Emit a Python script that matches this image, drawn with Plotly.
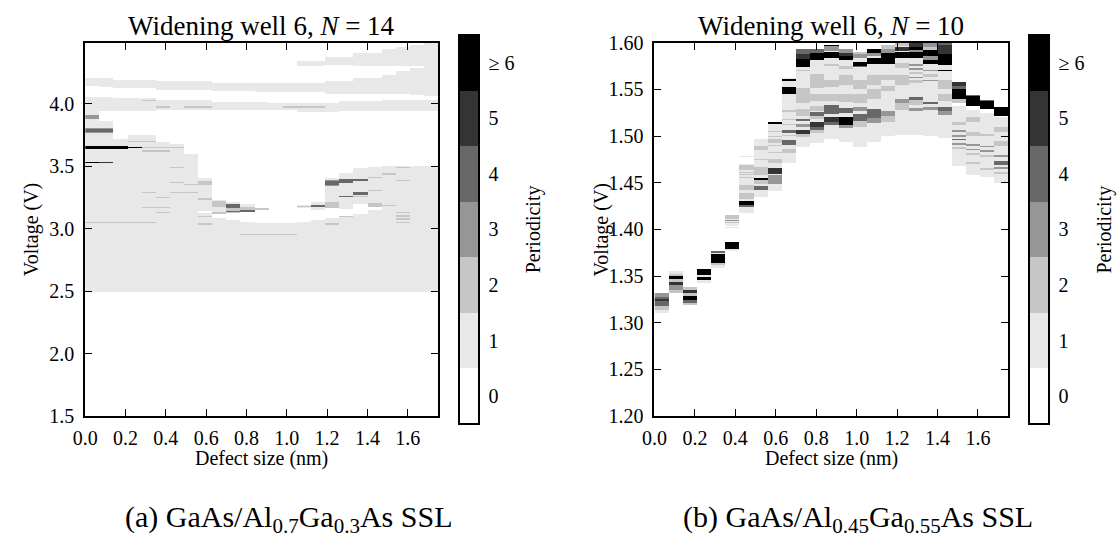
import numpy as np
import plotly.graph_objects as go

# ---------------- data ----------------
LEVEL_COLORS = ['#ffffff', '#e8e8e8', '#c6c6c6', '#969696', '#686868', '#343434', '#000000']
CBAR_TICKVALS = [0, 1, 2, 3, 4, 5, 6]
CBAR_TICKTEXT = ['0', '1', '2', '3', '4', '5', '≥ 6']

N_COLS = 25          # defect-size columns
COL_WIDTH = 0.07     # nm per column
X_TICKS = [0.0, 0.2, 0.4, 0.6, 0.8, 1.0, 1.2, 1.4, 1.6]

LEFT_V_RANGE = [1.5, 4.49]
LEFT_V_STEP = 0.0025
LEFT_Y_TICKS = [1.5, 2.0, 2.5, 3.0, 3.5, 4.0]

RIGHT_V_RANGE = [1.2, 1.6]
RIGHT_V_STEP = 0.0005
RIGHT_Y_TICKS = [1.20, 1.25, 1.30, 1.35, 1.40, 1.45, 1.50, 1.55, 1.60]

# (first column, last column, V low, V high, periodicity)
LEFT_REGIONS = [
    (0, 1, 2.50, 3.86, 1), (2, 2, 2.50, 3.72, 1), (3, 4, 2.50, 3.75, 1),
    (5, 5, 2.50, 3.70, 1), (6, 6, 2.50, 3.68, 1), (7, 7, 2.50, 3.60, 1),
    (8, 8, 2.50, 3.125, 1), (8, 8, 3.145, 3.41, 1),
    (9, 9, 2.50, 3.09, 1), (9, 9, 3.12, 3.235, 1),
    (10, 10, 2.50, 3.075, 1), (10, 10, 3.13, 3.215, 1),
    (11, 11, 2.50, 3.06, 1), (11, 11, 3.14, 3.20, 1),
    (12, 12, 2.50, 3.05, 1), (12, 12, 3.15, 3.165, 1),
    (13, 13, 2.50, 3.045, 1), (14, 14, 2.50, 3.05, 1),
    (15, 15, 2.50, 3.06, 1), (15, 15, 3.17, 3.19, 1),
    (16, 16, 2.50, 3.075, 1), (16, 16, 3.15, 3.22, 1),
    (17, 17, 2.50, 3.09, 1), (17, 17, 3.17, 3.41, 1),
    (18, 18, 2.50, 3.10, 1), (18, 18, 3.16, 3.45, 1),
    (19, 19, 2.50, 3.12, 1), (19, 19, 3.20, 3.49, 1),
    (20, 20, 2.50, 3.15, 1), (20, 20, 3.18, 3.50, 1),
    (21, 24, 2.50, 3.505, 1),
    (0, 0, 3.86, 3.94, 1),
]
LEFT_BAND_4V = [
    (0, 1, 3.940, 4.055, 1), (2, 4, 3.945, 4.045, 1), (5, 8, 3.953, 4.030, 1),
    (9, 12, 3.955, 4.015, 1), (13, 14, 3.955, 4.005, 1), (15, 17, 3.937, 4.010, 1),
    (18, 20, 3.940, 4.020, 1), (21, 24, 3.940, 4.030, 1),
]
LEFT_BAND_MID = [
    (0, 0, 4.140, 4.210, 1), (1, 1, 4.135, 4.205, 1), (2, 4, 4.128, 4.190, 1),
    (5, 8, 4.115, 4.180, 1), (9, 11, 4.100, 4.170, 1), (12, 16, 4.095, 4.170, 1),
    (17, 18, 4.080, 4.185, 1), (19, 20, 4.080, 4.210, 1), (21, 21, 4.080, 4.235, 1),
    (22, 22, 4.078, 4.260, 1), (23, 23, 4.075, 4.290, 1), (24, 24, 4.067, 4.490, 1),
]
LEFT_BAND_TOP = [
    (15, 16, 4.303, 4.339, 1), (17, 18, 4.313, 4.372, 1), (19, 20, 4.308, 4.410, 1),
    (21, 21, 4.308, 4.440, 1), (22, 22, 4.308, 4.457, 1), (23, 23, 4.300, 4.476, 1),
]
LEFT_MARKS = [
    (4, 4, 4.025, 4.035, 2), (5, 5, 3.970, 3.980, 2), (7, 8, 3.970, 3.980, 2),
    (14, 16, 3.970, 3.980, 2),
    (0, 0, 3.880, 3.910, 3), (0, 1, 3.765, 3.807, 3), (0, 1, 3.772, 3.800, 4),
    (3, 4, 3.695, 3.705, 2), (4, 6, 3.647, 3.657, 2), (4, 5, 3.620, 3.630, 2),
    (0, 2, 3.642, 3.667, 6), (3, 3, 3.644, 3.656, 6),
    (0, 1, 3.524, 3.536, 5), (0, 0, 3.526, 3.534, 6),
    (6, 6, 3.490, 3.500, 2), (6, 6, 3.365, 3.375, 2), (7, 7, 3.350, 3.360, 2),
    (4, 4, 3.290, 3.300, 2), (6, 7, 3.290, 3.300, 2), (5, 5, 3.245, 3.255, 2),
    (4, 5, 3.170, 3.180, 2), (5, 5, 3.125, 3.135, 2), (0, 4, 3.045, 3.055, 2),
    (8, 8, 3.350, 3.385, 2), (8, 8, 3.235, 3.245, 2), (8, 8, 3.095, 3.105, 2),
    (8, 8, 3.035, 3.045, 2),
    (9, 9, 3.175, 3.225, 2), (9, 9, 3.120, 3.140, 2),
    (10, 10, 3.130, 3.165, 2), (10, 10, 3.170, 3.200, 4), (10, 10, 3.137, 3.147, 4),
    (11, 11, 3.150, 3.180, 2), (11, 11, 3.140, 3.150, 4),
    (12, 12, 3.155, 3.165, 2), (11, 14, 2.952, 2.962, 2),
    (15, 15, 3.175, 3.185, 2), (16, 16, 3.180, 3.190, 4),
    (17, 17, 3.170, 3.220, 2), (17, 17, 3.345, 3.390, 3), (17, 17, 3.352, 3.382, 4),
    (17, 17, 3.035, 3.045, 2),
    (18, 18, 3.370, 3.400, 4), (18, 18, 3.255, 3.265, 4), (18, 18, 3.095, 3.105, 2),
    (19, 19, 3.385, 3.400, 4), (19, 19, 3.270, 3.295, 4), (19, 19, 3.255, 3.262, 2),
    (20, 20, 3.410, 3.420, 2), (20, 20, 3.305, 3.315, 2), (20, 20, 3.180, 3.205, 2),
    (21, 21, 3.435, 3.445, 2), (21, 21, 3.185, 3.195, 2),
    (22, 22, 3.490, 3.500, 2), (22, 22, 3.385, 3.395, 2), (22, 22, 3.125, 3.135, 2),
    (22, 22, 3.100, 3.110, 2), (22, 22, 3.075, 3.085, 2), (22, 22, 3.050, 3.060, 2),
]

RIGHT_BASE = [
    (6, 6, 1.4175, 1.4700, 1), (6, 6, 1.4775, 1.4785, 1), (7, 7, 1.4350, 1.4970, 1),
    (8, 8, 1.4415, 1.5135, 1), (9, 9, 1.4710, 1.5620, 1), (10, 10, 1.4880, 1.5930, 1),
    (11, 11, 1.4930, 1.5930, 1), (12, 12, 1.4970, 1.5980, 1), (13, 13, 1.4940, 1.5930, 1),
    (14, 14, 1.4880, 1.5905, 1), (15, 15, 1.4940, 1.5930, 1), (16, 16, 1.5000, 1.5970, 1),
    (17, 18, 1.5010, 1.6000, 1), (19, 19, 1.5000, 1.6000, 1), (20, 20, 1.4980, 1.6000, 1),
    (21, 21, 1.4680, 1.5320, 1), (22, 22, 1.4580, 1.5280, 1), (23, 23, 1.4560, 1.5250, 1),
    (24, 24, 1.4500, 1.5200, 1),
]
RIGHT_LOW_COLS = [
    (0, 0, 1.3110, 1.3140, 1), (0, 0, 1.3140, 1.3180, 2), (0, 0, 1.3180, 1.3280, 4),
    (0, 0, 1.3280, 1.3320, 3), (0, 0, 1.3235, 1.3260, 5),
    (1, 1, 1.3530, 1.3560, 1), (1, 1, 1.3500, 1.3530, 2), (1, 1, 1.3470, 1.3500, 6),
    (1, 1, 1.3440, 1.3470, 2), (1, 1, 1.3405, 1.3440, 5), (1, 1, 1.3360, 1.3405, 3),
    (1, 1, 1.3320, 1.3360, 2),
    (2, 2, 1.3360, 1.3385, 2), (2, 2, 1.3320, 1.3360, 5), (2, 2, 1.3295, 1.3320, 2),
    (2, 2, 1.3250, 1.3295, 6), (2, 2, 1.3220, 1.3250, 4), (2, 2, 1.3195, 1.3220, 2),
    (3, 3, 1.3520, 1.3580, 6), (3, 3, 1.3495, 1.3520, 1), (3, 3, 1.3460, 1.3495, 6),
    (3, 3, 1.3430, 1.3460, 1),
    (4, 4, 1.3755, 1.3775, 4), (4, 4, 1.3735, 1.3755, 1), (4, 4, 1.3640, 1.3735, 6),
    (4, 4, 1.3620, 1.3640, 2), (4, 4, 1.3585, 1.3620, 1),
    (5, 5, 1.3790, 1.3870, 6), (5, 5, 1.3770, 1.3790, 1), (5, 5, 1.4110, 1.4160, 2),
    (5, 5, 1.4085, 1.4110, 1), (5, 5, 1.4095, 1.4105, 3), (5, 5, 1.4070, 1.4085, 2),
    (5, 5, 1.4040, 1.4070, 1), (5, 5, 1.4020, 1.4030, 1),
]
RIGHT_MARKS = [
    (6, 6, 1.4640, 1.4690, 2), (6, 6, 1.4612, 1.4622, 2), (6, 6, 1.4585, 1.4595, 2),
    (6, 6, 1.4550, 1.4560, 2), (6, 6, 1.4420, 1.4480, 2), (6, 6, 1.4330, 1.4390, 2),
    (6, 6, 1.4260, 1.4310, 6), (6, 6, 1.4240, 1.4260, 4),
    (7, 7, 1.4850, 1.4900, 2), (7, 7, 1.4740, 1.4760, 2), (7, 7, 1.4590, 1.4670, 2),
    (7, 7, 1.4535, 1.4555, 6), (7, 7, 1.4490, 1.4535, 2), (7, 7, 1.4420, 1.4470, 4),
    (8, 8, 1.5135, 1.5155, 6), (8, 8, 1.5045, 1.5060, 2), (8, 8, 1.4995, 1.5005, 2),
    (8, 8, 1.4930, 1.4970, 2), (8, 8, 1.4895, 1.4905, 2), (8, 8, 1.4825, 1.4835, 2),
    (8, 8, 1.4710, 1.4760, 2), (8, 8, 1.4595, 1.4655, 5), (8, 8, 1.4485, 1.4580, 3),
    (9, 9, 1.5585, 1.5615, 6), (9, 9, 1.5450, 1.5530, 6), (9, 9, 1.5255, 1.5285, 2),
    (9, 9, 1.5175, 1.5185, 2), (9, 9, 1.5115, 1.5125, 2), (9, 9, 1.5030, 1.5065, 4),
    (9, 9, 1.5005, 1.5015, 2), (9, 9, 1.4905, 1.4955, 4), (9, 9, 1.4815, 1.4865, 2),
    (10, 10, 1.5880, 1.5930, 4), (10, 10, 1.5825, 1.5880, 5), (10, 10, 1.5740, 1.5825, 6),
    (10, 10, 1.5695, 1.5705, 2), (10, 10, 1.5350, 1.5520, 2), (10, 10, 1.5220, 1.5290, 2),
    (10, 10, 1.5160, 1.5180, 4), (10, 10, 1.5100, 1.5130, 3), (10, 10, 1.5025, 1.5070, 5),
    (10, 10, 1.4995, 1.5025, 2),
    (11, 11, 1.5895, 1.5930, 4), (11, 11, 1.5810, 1.5895, 6), (11, 11, 1.5520, 1.5660, 2),
    (11, 11, 1.5380, 1.5450, 2), (11, 11, 1.5270, 1.5320, 2), (11, 11, 1.5220, 1.5260, 4),
    (11, 11, 1.5180, 1.5220, 2), (11, 11, 1.5100, 1.5150, 5), (11, 11, 1.5070, 1.5100, 4),
    (11, 11, 1.5030, 1.5070, 2),
    (12, 12, 1.5965, 1.5980, 6), (12, 12, 1.5910, 1.5965, 3), (12, 12, 1.5840, 1.5900, 6),
    (12, 12, 1.5750, 1.5770, 2), (12, 12, 1.5530, 1.5600, 2), (12, 12, 1.5380, 1.5450, 2),
    (12, 12, 1.5240, 1.5330, 4), (12, 12, 1.5150, 1.5210, 5), (12, 12, 1.5120, 1.5150, 4),
    (13, 13, 1.5890, 1.5930, 3), (13, 13, 1.5860, 1.5890, 5), (13, 13, 1.5820, 1.5860, 6),
    (13, 13, 1.5720, 1.5750, 2), (13, 13, 1.5550, 1.5650, 2), (13, 13, 1.5370, 1.5450, 2),
    (13, 13, 1.5250, 1.5300, 4), (13, 13, 1.5120, 1.5210, 6), (13, 13, 1.5090, 1.5120, 3),
    (14, 14, 1.5880, 1.5905, 2), (14, 14, 1.5840, 1.5880, 3), (14, 14, 1.5755, 1.5790, 6),
    (14, 14, 1.5740, 1.5755, 4), (14, 14, 1.5500, 1.5600, 2), (14, 14, 1.5350, 1.5450, 2),
    (14, 14, 1.5270, 1.5310, 3), (14, 14, 1.5160, 1.5240, 4), (14, 14, 1.5100, 1.5160, 2),
    (15, 15, 1.5890, 1.5930, 6), (15, 15, 1.5860, 1.5890, 3), (15, 15, 1.5770, 1.5840, 6),
    (15, 15, 1.5550, 1.5650, 2), (15, 15, 1.5400, 1.5500, 2), (15, 15, 1.5190, 1.5290, 4),
    (15, 15, 1.5140, 1.5190, 3),
    (16, 16, 1.5930, 1.5970, 2), (16, 16, 1.5890, 1.5930, 3), (16, 16, 1.5770, 1.5890, 6),
    (16, 16, 1.5600, 1.5650, 2), (16, 16, 1.5480, 1.5540, 2), (16, 16, 1.5220, 1.5270, 3),
    (16, 16, 1.5150, 1.5220, 2),
    (17, 17, 1.5960, 1.6000, 2), (17, 17, 1.5910, 1.5950, 5), (17, 17, 1.5840, 1.5900, 6),
    (17, 17, 1.5730, 1.5780, 2), (17, 17, 1.5550, 1.5650, 2), (17, 17, 1.5360, 1.5400, 3),
    (17, 17, 1.5280, 1.5360, 2),
    (18, 18, 1.5950, 1.6000, 5), (18, 18, 1.5920, 1.5950, 6), (18, 18, 1.5900, 1.5920, 3),
    (18, 18, 1.5840, 1.5900, 6), (18, 18, 1.5755, 1.5770, 3), (18, 18, 1.5710, 1.5725, 3),
    (18, 18, 1.5660, 1.5690, 2), (18, 18, 1.5620, 1.5635, 3), (18, 18, 1.5570, 1.5600, 2),
    (18, 18, 1.5385, 1.5415, 4), (18, 18, 1.5330, 1.5385, 2), (18, 18, 1.5270, 1.5300, 3),
    (19, 19, 1.5950, 1.6000, 3), (19, 19, 1.5920, 1.5950, 2), (19, 19, 1.5860, 1.5920, 6),
    (19, 19, 1.5820, 1.5860, 3), (19, 19, 1.5770, 1.5820, 6), (19, 19, 1.5695, 1.5710, 3),
    (19, 19, 1.5630, 1.5670, 2), (19, 19, 1.5590, 1.5605, 3), (19, 19, 1.5340, 1.5370, 4),
    (19, 19, 1.5280, 1.5310, 3),
    (20, 20, 1.5970, 1.6000, 4), (20, 20, 1.5880, 1.5970, 5), (20, 20, 1.5760, 1.5880, 6),
    (20, 20, 1.5695, 1.5710, 6), (20, 20, 1.5500, 1.5600, 2), (20, 20, 1.5380, 1.5450, 2),
    (20, 20, 1.5270, 1.5310, 4), (20, 20, 1.5230, 1.5270, 3),
    (21, 21, 1.5360, 1.5395, 2), (21, 21, 1.5395, 1.5500, 6), (21, 21, 1.5500, 1.5540, 4),
    (21, 21, 1.5540, 1.5580, 5), (21, 21, 1.5120, 1.5150, 2), (21, 21, 1.5045, 1.5065, 3),
    (21, 21, 1.4995, 1.5015, 3), (21, 21, 1.4955, 1.4975, 4), (21, 21, 1.4910, 1.4930, 3),
    (21, 21, 1.4860, 1.4880, 2),
    (22, 22, 1.5326, 1.5429, 6), (22, 22, 1.5429, 1.5445, 4), (22, 22, 1.5150, 1.5200, 2),
    (22, 22, 1.5000, 1.5050, 2), (22, 22, 1.4900, 1.4920, 3), (22, 22, 1.4850, 1.4865, 3),
    (22, 22, 1.4800, 1.4820, 2), (22, 22, 1.4700, 1.4720, 2),
    (23, 23, 1.5290, 1.5375, 6), (23, 23, 1.5375, 1.5390, 4), (23, 23, 1.5000, 1.5020, 2),
    (23, 23, 1.4880, 1.4900, 3), (23, 23, 1.4830, 1.4850, 3), (23, 23, 1.4780, 1.4800, 2),
    (23, 23, 1.4640, 1.4660, 2),
    (24, 24, 1.5220, 1.5316, 6), (24, 24, 1.5050, 1.5100, 2), (24, 24, 1.4900, 1.4950, 2),
    (24, 24, 1.4780, 1.4800, 3), (24, 24, 1.4690, 1.4730, 4), (24, 24, 1.4650, 1.4670, 3),
    (24, 24, 1.4600, 1.4620, 2),
]

TITLES = ['Widening well 6, <i>N</i> = 14', 'Widening well 6, <i>N</i> = 10']
CAPTIONS = ['(a) GaAs/Al<sub>0.7</sub>Ga<sub>0.3</sub>As SSL',
            '(b) GaAs/Al<sub>0.45</sub>Ga<sub>0.55</sub>As SSL']
X_LABEL = 'Defect size (nm)'
Y_LABEL = 'Voltage (V)'
CB_LABEL = 'Periodicity'


# ---------------- build grids ----------------
def build_grid(vrange, step, *rect_lists):
    nrows = int(round((vrange[1] - vrange[0]) / step))
    edges = np.linspace(vrange[0], vrange[1], nrows + 1)
    centers = 0.5 * (edges[:-1] + edges[1:])
    z = np.zeros((nrows, N_COLS))
    for rects in rect_lists:
        for c0, c1, v0, v1, lev in rects:
            m = (centers >= v0) & (centers < v1)
            z[m, c0:c1 + 1] = lev
    return centers, z


x_centers = COL_WIDTH * (np.arange(N_COLS) + 0.5)
yl, zl = build_grid(LEFT_V_RANGE, LEFT_V_STEP, LEFT_REGIONS, LEFT_BAND_4V,
                    LEFT_BAND_MID, LEFT_BAND_TOP, LEFT_MARKS)
yr, zr = build_grid(RIGHT_V_RANGE, RIGHT_V_STEP, RIGHT_BASE, RIGHT_LOW_COLS, RIGHT_MARKS)

n = len(LEVEL_COLORS)
colorscale = []
for k, c in enumerate(LEVEL_COLORS):
    colorscale.append([k / n, c])
    colorscale.append([(k + 1) / n, c])

# ---------------- layout geometry (pixels) ----------------
W, H = 1118, 552
FONT = 'Liberation Serif'
TICK_SIZE = 20
LABEL_SIZE = 20
TITLE_SIZE = 27
CAPTION_SIZE = 30
PLOT_TOP, PLOT_BOT = 33, 422
PANELS = [dict(x0=73, x1=430, cb=451), dict(x0=649, x1=1007, cb=1028)]


def fx(p):
    return p / W


def fy(p):
    return 1 - p / H


fig = go.Figure()
for i, (yc, z) in enumerate([(yl, zl), (yr, zr)]):
    p = PANELS[i]
    fig.add_trace(go.Heatmap(
        x=x_centers, y=yc, z=z, zmin=-0.5, zmax=6.5, colorscale=colorscale,
        xaxis='x' if i == 0 else 'x2', yaxis='y' if i == 0 else 'y2',
        hoverinfo='skip', zsmooth=False,
        colorbar=dict(
            x=fx(p['cb']), xanchor='left', y=fy((PLOT_TOP + PLOT_BOT) / 2), yanchor='middle',
            thickness=20, thicknessmode='pixels', len=PLOT_BOT - PLOT_TOP, lenmode='pixels',
            outlinewidth=2, outlinecolor='black', xpad=0, ypad=0,
            tickvals=CBAR_TICKVALS, ticktext=CBAR_TICKTEXT, ticks='outside', ticklen=5,
            tickcolor='rgba(0,0,0,0)', tickfont=dict(family=FONT, size=TICK_SIZE, color='black'),
        ),
    ))

axis_common = dict(showline=True, linewidth=2, linecolor='black', mirror='ticks',
                   ticks='inside', ticklen=7, tickwidth=1, tickcolor='black',
                   showgrid=False, zeroline=False,
                   tickfont=dict(family=FONT, size=TICK_SIZE, color='black'))

yd = [fy(PLOT_BOT), fy(PLOT_TOP)]
fig.update_layout(
    width=W, height=H, margin=dict(l=0, r=0, t=0, b=0),
    paper_bgcolor='white', plot_bgcolor='white', showlegend=False,
    font=dict(family=FONT, color='black'),
    xaxis=dict(domain=[fx(PANELS[0]['x0']), fx(PANELS[0]['x1'])], range=[0, N_COLS * COL_WIDTH],
               tickvals=X_TICKS, tickformat='.1f', anchor='y', ticklabelstandoff=3, **axis_common),
    yaxis=dict(domain=yd, range=LEFT_V_RANGE, tickvals=LEFT_Y_TICKS, tickformat='.1f',
               anchor='x', ticklabelstandoff=5, **axis_common),
    xaxis2=dict(domain=[fx(PANELS[1]['x0']), fx(PANELS[1]['x1'])], range=[0, N_COLS * COL_WIDTH],
                tickvals=X_TICKS, tickformat='.1f', anchor='y2', ticklabelstandoff=3, **axis_common),
    yaxis2=dict(domain=yd, range=RIGHT_V_RANGE, tickvals=RIGHT_Y_TICKS, tickformat='.2f',
                anchor='x2', ticklabelstandoff=5, **axis_common),
)

ann = []
for i, p in enumerate(PANELS):
    cx = (p['x0'] + p['x1']) / 2
    ann.append(dict(x=fx(cx), y=fy(16), text=TITLES[i], font=dict(size=TITLE_SIZE)))
    ann.append(dict(x=fx(cx), y=fy(466), text=X_LABEL, font=dict(size=LABEL_SIZE)))
    ann.append(dict(x=fx(p['x0'] - 54), y=fy((PLOT_TOP + PLOT_BOT) / 2), text=Y_LABEL,
                    textangle=-90, font=dict(size=LABEL_SIZE)))
    ann.append(dict(x=fx(p['cb'] + 76), y=fy((PLOT_TOP + PLOT_BOT) / 2), text=CB_LABEL,
                    textangle=-90, font=dict(size=LABEL_SIZE)))
    ann.append(dict(x=fx(cx + 27), y=fy(529), text=CAPTIONS[i], font=dict(size=CAPTION_SIZE)))
for a in ann:
    a.update(xref='paper', yref='paper', showarrow=False, xanchor='center', yanchor='middle')
    a['font'].update(family=FONT, color='black')
fig.update_layout(annotations=ann)

fig.write_html('out.html', config={'displayModeBar': False})
